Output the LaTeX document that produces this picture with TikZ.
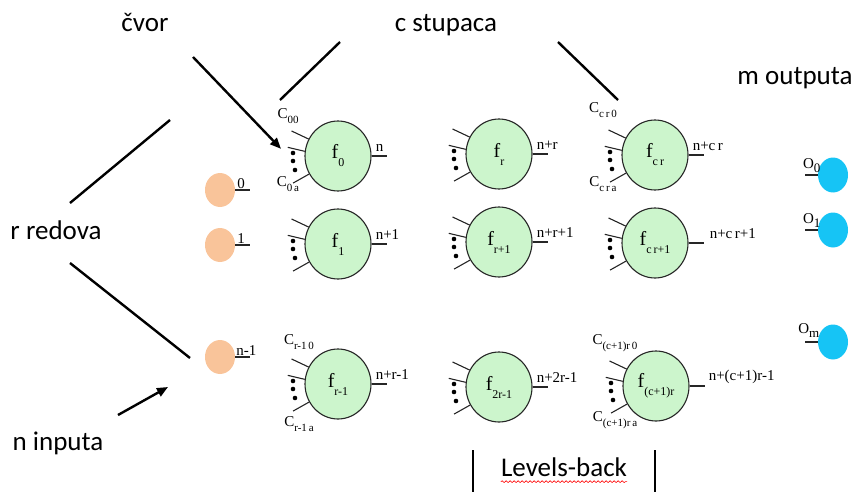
\documentclass[tikz,border=0pt]{standalone}
\usepackage{fontspec}
\setmainfont{Liberation Serif}
\newfontfamily\calfont{Carlito}
\usetikzlibrary{arrows.meta,decorations.pathmorphing,shapes.geometric,calc}
\definecolor{fgreen}{RGB}{204,245,204}
\definecolor{orng}{RGB}{249,196,154}
\definecolor{cblue}{RGB}{22,196,245}
\newcommand\lsub[1]{\raisebox{-0.35em}{\fontsize{11}{11}\selectfont #1}}
\newcommand\fsub[1]{\raisebox{-0.4em}{\fontsize{12}{12}\selectfont #1}}
\newcommand\osub[1]{\raisebox{-0.3em}{\fontsize{13}{13}\selectfont #1}}
\tikzset{
  fnode/.style={ellipse, draw=black!85, line width=1.1pt, fill=fgreen, minimum width=66pt, minimum height=70pt, inner sep=0pt, font=\fontsize{20}{20}\selectfont},
  inp/.style={ellipse, fill=orng, minimum width=30pt, minimum height=34pt, inner sep=0pt},
  outp/.style={ellipse, fill=cblue, minimum width=30pt, minimum height=35pt, inner sep=0pt},
  stub/.style={line width=1.1pt, black!85},
  big/.style={font=\calfont\fontsize{27}{27}\selectfont, inner sep=0pt},
  lbl/.style={font=\fontsize{15}{15}\selectfont, inner sep=1pt},
  clbl/.style={font=\fontsize{15}{15}\selectfont, inner sep=0pt},
  bar/.style={line width=2.4pt, black},
}
\newcommand\fstubs[1]{%
  \draw[stub] (#1.150) -- ++(-17,-8);
  \draw[stub] (#1.172) -- ++(-17,-4);
  \draw[stub] (#1.212) -- ++(-16,9);
  \fill ($(#1.center)+(-45,-3)$) circle (2.3);
  \fill ($(#1.center)+(-45,5)$) circle (2.3);
  \fill ($(#1.center)+(-43,14)$) circle (2.3);
  \draw[stub] (#1.east) -- ++(15,0) coordinate (#1out);
}
\begin{document}
\begin{tikzpicture}[x=1pt,y=-1pt]
\useasboundingbox (0,0) rectangle (858,492);

% function nodes
\node[fnode] (f0) at (338,156) {f\fsub{0}};
\node[fnode] (fr) at (499,154) {f\fsub{r}};
\node[fnode] (fcr) at (655,155) {f\fsub{c\,r}};
\node[fnode] (f1) at (338,244) {f\fsub{1}};
\node[fnode] (fr1) at (499,242) {f\fsub{r+1}};
\node[fnode] (fcr1) at (655,243) {f\fsub{c\,r+1}};
\node[fnode] (frm) at (338,384) {f\fsub{r-1}};
\node[fnode] (f2r) at (499,387) {f\fsub{2r-1}};
\node[fnode] (fc1) at (656,386) {f\fsub{(c+1)r}};

\fstubs{f0}\fstubs{fr}\fstubs{fcr}
\fstubs{f1}\fstubs{fr1}\fstubs{fcr1}
\fstubs{frm}\fstubs{f2r}\fstubs{fc1}

% output labels of function nodes
\node[lbl, anchor=south west] (lf0) at ($(f0.east)+(3,-3)$) {n};
\node[lbl, anchor=south west] (lfr) at ($(fr.east)+(3,-3)$) {n+r};
\node[lbl, anchor=south west] (lfcr) at ($(fcr.east)+(3,-3)$) {n+c\,r};
\node[lbl, anchor=south west] (lf1) at ($(f1.east)+(3,-3)$) {n+1};
\node[lbl, anchor=south west] (lfr1) at ($(fr1.east)+(3,-3)$) {n+r+1};
\node[lbl, anchor=south west] (lfcr1) at ($(fcr1.east)+(20,-3)$) {n+c\,r+1};
\node[lbl, anchor=south west] (lfrm) at ($(frm.east)+(3,-3)$) {n+r-1};
\node[lbl, anchor=south west] (lf2r) at ($(f2r.east)+(3,-3)$) {n+2r-1};
\node[lbl, anchor=south west] (lfc1) at ($(fc1.east)+(18,-1)$) {n+(c+1)r-1};

% connection gene labels
\node[clbl] (c00) at (288,116) {C\lsub{00}};
\node[clbl] (c0a) at (288,184) {C\lsub{0\,a}};
\node[clbl] (ccr0) at (603,110) {C\lsub{c\,r\,0}};
\node[clbl] (ccra) at (603,184) {C\lsub{c\,r\,a}};
\node[clbl] (cr10) at (299,342) {C\lsub{r-1\,0}};
\node[clbl] (cr1a) at (299,424) {C\lsub{r-1\,a}};
\node[clbl] (cc0) at (615,343) {C\lsub{(c+1)r\,0}};
\node[clbl] (cca) at (615,420) {C\lsub{(c+1)r\,a}};

% inputs
\node[inp] (i0) at (220,190) {};
\node[inp] (i1) at (220,245) {};
\node[inp] (in) at (220,357) {};
\draw[stub] (i0.east) -- ++(15,0) coordinate (i0out);
\draw[stub] (i1.east) -- ++(15,0) coordinate (i1out);
\draw[stub] (in.east) -- ++(15,0) coordinate (inout);
\node[lbl, anchor=south] (li0) at ($(i0.east)+(6,0)$) {0};
\node[lbl, anchor=south] (li1) at ($(i1.east)+(6,0)$) {1};
\node[lbl, anchor=south west] (lin) at ($(in.east)+(0,0)$) {n-1};

% outputs
\node[outp] (o0) at (833,175) {};
\node[outp] (o1) at (833,230) {};
\node[outp] (om) at (833,342) {};
\draw[stub] (o0.west) -- ++(-13,0);
\draw[stub] (o1.west) -- ++(-13,0);
\draw[stub] (om.west) -- ++(-13,0);
\node[lbl, anchor=south] (lo0) at ($(o0.west)+(-6,-1)$) {O\osub{0}};
\node[lbl, anchor=south] (lo1) at ($(o1.west)+(-6,-1)$) {O\osub{1}};
\node[lbl, anchor=south] (lom) at ($(om.west)+(-9,-3)$) {O\osub{m}};

% big annotations
\node[big] (cvor) at (145,22) {čvor};
\node[big] (cst) at (446,25) {c stupaca};
\node[big] (mout) at (795,78) {m outputa};
\node[big] (rred) at (56,230) {r redova};
\node[big] (ninp) at (58,443) {n inputa};
\node[big] (lev) at (564,467) {Levels-back};

\coordinate (a1s) at (193,57);
\coordinate (a2s) at (118,415);
\coordinate (a2e) at (168,387);
\coordinate (c1s) at (340,42); \coordinate (c1e) at (280,100);
\coordinate (c2s) at (558,42); \coordinate (c2e) at (618,100);
\coordinate (r1s) at (170,120); \coordinate (r1e) at (70,203);
\coordinate (r2s) at (70,263); \coordinate (r2e) at (190,358);
\coordinate (b1s) at (473,450); \coordinate (b1e) at (473,492);
\coordinate (b2s) at (655,450); \coordinate (b2e) at (655,492);

\draw[bar, -{Triangle[length=11pt,width=9pt]}] (a1s) -- ($(c00.south)+(-7,25)$);
\draw[bar, -{Triangle[length=11pt,width=9pt]}] (a2s) -- (a2e);
\draw[bar] (c1s) -- (c1e);
\draw[bar] (c2s) -- (c2e);
\draw[bar] (r1s) -- (r1e);
\draw[bar] (r2s) -- (r2e);
\draw[bar] (b1s) -- (b1e);
\draw[bar] (b2s) -- (b2e);
\draw[red, line width=0.6pt, decorate, decoration={snake, amplitude=0.9pt, segment length=4pt}] ($(lev.south west)+(0,5)$) -- ($(lev.south east)+(0,5)$);
\end{tikzpicture}
\end{document}
